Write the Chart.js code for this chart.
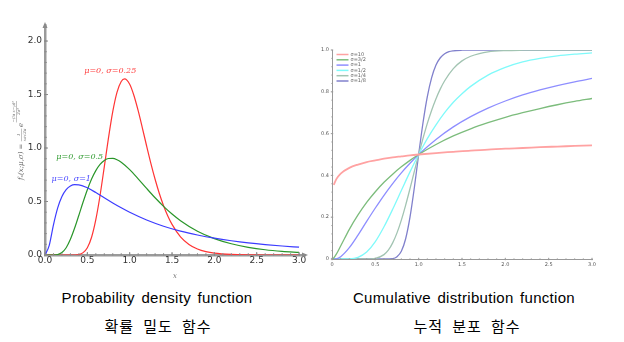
<!DOCTYPE html>
<html lang="ko">
<head>
<meta charset="UTF-8">
<title>로그 정규 분포</title>
<script src="https://cdn.jsdelivr.net/npm/chart.js@4.4.1/dist/chart.umd.min.js"></script>
<style>
  body { margin: 0; background: #fff; width: 624px; height: 342px; position: relative; overflow: hidden; }
  #pdfChart { position: absolute; left: 0; top: 0; }
  #cdfChart { position: absolute; left: 320px; top: 0; }
  .caption { position: absolute; width: 300px; text-align: center; line-height: 20px; font-family: "Liberation Sans", Arial, sans-serif; font-size: 15px; letter-spacing: 0.3px; word-spacing: 2px; color: #000; }
  .ko { font-family: "Noto Sans CJK KR", sans-serif; letter-spacing: 1px; word-spacing: 4px; }
</style>
</head>
<body>
<canvas id="pdfChart" width="320" height="280"></canvas>
<canvas id="cdfChart" width="304" height="280"></canvas>
<div class="caption" style="left:7px; top:288px;">Probability density function</div>
<div class="caption ko" style="left:8px; top:316px;">확률 밀도 함수</div>
<div class="caption" style="left:314px; top:288px;">Cumulative distribution function</div>
<div class="caption ko" style="left:317px; top:316px;">누적 분포 함수</div>

<script>
// ---- 확률 밀도 함수 (mu = 0) ----
const pdfX1 = [0, 0.05, 0.1, 0.15, 0.2, 0.25, 0.3, 0.35, 0.4, 0.5, 0.6, 0.7, 0.8, 0.9, 1.0, 1.2, 1.4, 1.6, 1.8, 2.0, 2.2, 2.4, 2.6, 2.8, 3.0];
const pdfY1 = [0, 0.090, 0.282, 0.440, 0.546, 0.610, 0.644, 0.657, 0.656, 0.628, 0.584, 0.535, 0.486, 0.441, 0.399, 0.327, 0.269, 0.223, 0.187, 0.157, 0.133, 0.113, 0.097, 0.084, 0.073];

const pdfX05 = [0, 0.1, 0.15, 0.2, 0.25, 0.3, 0.35, 0.4, 0.45, 0.5, 0.55, 0.6, 0.65, 0.7, 0.75, 0.8, 0.85, 0.9, 1.0, 1.1, 1.2, 1.3, 1.4, 1.5, 1.6, 1.8, 2.0, 2.2, 2.4, 2.6, 2.8, 3.0];
const pdfY05 = [0, 0.000, 0.004, 0.023, 0.068, 0.147, 0.252, 0.372, 0.495, 0.610, 0.710, 0.789, 0.847, 0.884, 0.902, 0.903, 0.891, 0.867, 0.798, 0.712, 0.622, 0.535, 0.455, 0.383, 0.321, 0.222, 0.153, 0.105, 0.072, 0.049, 0.034, 0.024];

const pdfX025 = [0, 0.3, 0.4, 0.45, 0.5, 0.55, 0.6, 0.65, 0.7, 0.75, 0.8, 0.85, 0.9, 0.94, 1.0, 1.05, 1.1, 1.15, 1.2, 1.25, 1.3, 1.35, 1.4, 1.45, 1.5, 1.6, 1.7, 1.8, 1.9, 2.0, 2.2, 2.4, 2.6, 3.0];
const pdfY025 = [0, 0, 0.005, 0.022, 0.068, 0.166, 0.330, 0.556, 0.824, 1.097, 1.340, 1.520, 1.622, 1.646, 1.596, 1.491, 1.349, 1.187, 1.019, 0.857, 0.708, 0.575, 0.461, 0.365, 0.286, 0.170, 0.099, 0.056, 0.031, 0.017, 0.005, 0.001, 0.000, 0];

const pdfXTicks = [0, 0.5, 1.0, 1.5, 2.0, 2.5, 3.0];
const pdfYTicks = [0, 0.5, 1.0, 1.5, 2.0];
const pdfNotes = [
  { text: 'μ=0, σ=0.25', x: 0.77, y: 1.72, color: '#ff3b3b' },
  { text: 'μ=0, σ=0.5', x: 0.41, y: 0.92, color: '#2e9a2e' },
  { text: 'μ=0, σ=1', x: 0.31, y: 0.71, color: '#4848ff' }
];

// ---- 누적 분포 함수 (mu = 0) ----
const cdfLabels = ['σ=10', 'σ=3/2', 'σ=1', 'σ=1/2', 'σ=1/4', 'σ=1/8'];
const cdfColors = ['#ffa2a2', '#7cbc7c', '#8e8eff', '#80fafa', '#a2c4b2', '#8080cc'];

const cdfX10 = [0.02, 0.05, 0.1, 0.2, 0.3, 0.4, 0.5, 0.6, 0.7, 0.8, 0.9, 1.0, 1.2, 1.4, 1.6, 1.8, 2.0, 2.2, 2.4, 2.6, 2.8, 3.0];
const cdfY10 = [0.355, 0.382, 0.409, 0.436, 0.452, 0.464, 0.472, 0.480, 0.486, 0.491, 0.496, 0.500, 0.507, 0.513, 0.519, 0.523, 0.528, 0.531, 0.535, 0.538, 0.541, 0.544];

const cdfX15 = [0, 0.02, 0.05, 0.1, 0.2, 0.3, 0.4, 0.5, 0.6, 0.7, 0.8, 0.9, 1.0, 1.2, 1.4, 1.6, 1.8, 2.0, 2.2, 2.4, 2.6, 2.8, 3.0];
const cdfY15 = [0, 0.005, 0.023, 0.062, 0.142, 0.211, 0.271, 0.322, 0.367, 0.406, 0.441, 0.472, 0.500, 0.548, 0.589, 0.623, 0.652, 0.678, 0.700, 0.720, 0.738, 0.754, 0.768];

const cdfX1 = [0, 0.05, 0.1, 0.2, 0.3, 0.4, 0.5, 0.6, 0.7, 0.8, 0.9, 1.0, 1.2, 1.4, 1.6, 1.8, 2.0, 2.2, 2.4, 2.6, 2.8, 3.0];
const cdfY1 = [0, 0.001, 0.011, 0.054, 0.114, 0.180, 0.244, 0.305, 0.361, 0.412, 0.458, 0.500, 0.572, 0.632, 0.681, 0.722, 0.756, 0.785, 0.809, 0.830, 0.848, 0.864];

const cdfXHalf = [0, 0.2, 0.3, 0.4, 0.5, 0.6, 0.7, 0.8, 0.9, 1.0, 1.1, 1.2, 1.3, 1.4, 1.5, 1.6, 1.8, 2.0, 2.2, 2.4, 2.6, 2.8, 3.0];
const cdfYHalf = [0, 0.001, 0.008, 0.033, 0.083, 0.154, 0.238, 0.328, 0.417, 0.500, 0.576, 0.642, 0.700, 0.750, 0.791, 0.826, 0.880, 0.917, 0.943, 0.960, 0.972, 0.980, 0.986];

const cdfXQuarter = [0, 0.4, 0.5, 0.6, 0.65, 0.7, 0.75, 0.8, 0.85, 0.9, 0.95, 1.0, 1.05, 1.1, 1.15, 1.2, 1.25, 1.3, 1.4, 1.5, 1.6, 1.7, 1.8, 2.0, 2.2, 2.5, 3.0];
const cdfYQuarter = [0, 0.000, 0.003, 0.021, 0.042, 0.077, 0.125, 0.186, 0.258, 0.337, 0.419, 0.500, 0.577, 0.649, 0.712, 0.767, 0.814, 0.853, 0.911, 0.948, 0.970, 0.983, 0.991, 0.997, 0.999, 1, 1];

const cdfXEighth = [0, 0.6, 0.7, 0.75, 0.8, 0.85, 0.9, 0.95, 1.0, 1.05, 1.1, 1.15, 1.2, 1.25, 1.3, 1.35, 1.4, 1.5, 1.6, 3.0];
const cdfYEighth = [0, 0, 0.002, 0.011, 0.037, 0.097, 0.200, 0.341, 0.500, 0.652, 0.777, 0.868, 0.928, 0.963, 0.982, 0.992, 0.996, 0.999, 1, 1];

const cdfXTicks = [0, 0.5, 1, 1.5, 2, 2.5, 3];
const cdfYTicks = [0, 0.2, 0.4, 0.6, 0.8, 1];

const pts = (xs, ys) => xs.map((x, i) => ({ x: x, y: ys[i] }));

// 축 눈금(주/보조)과 화살표
const axisDecor = {
  id: 'axisDecor',
  afterDatasetsDraw(chart, args, o) {
    const { ctx, chartArea: a, scales: { x, y } } = chart;
    ctx.save();
    ctx.strokeStyle = o.color;
    ctx.lineWidth = o.tickWidth;
    const tick = (vx, vy, len, horiz) => {
      ctx.beginPath();
      if (horiz) {
        const px = x.getPixelForValue(vx);
        ctx.moveTo(px, a.bottom + o.out * len);
        ctx.lineTo(px, a.bottom - o.in * len);
      } else {
        const py = y.getPixelForValue(vy);
        ctx.moveTo(a.left - o.out * len, py);
        ctx.lineTo(a.left + o.in * len, py);
      }
      ctx.stroke();
    };
    for (let v = 0; v <= o.xMax + 1e-9; v += o.xMinor) tick(v, 0, o.minorLen, true);
    for (let v = 0; v <= o.yMax + 1e-9; v += o.yMinor) tick(0, v, o.minorLen, false);
    o.xMajor.forEach(v => tick(v, 0, o.majorLen, true));
    o.yMajor.forEach(v => tick(0, v, o.majorLen, false));
    if (o.arrows) {
      ctx.fillStyle = o.color;
      ctx.beginPath();
      ctx.moveTo(a.left, a.top - 3);
      ctx.lineTo(a.left - 2.5, a.top + 3);
      ctx.lineTo(a.left + 2.5, a.top + 3);
      ctx.fill();
      ctx.beginPath();
      ctx.moveTo(a.right + 3, a.bottom);
      ctx.lineTo(a.right - 3, a.bottom - 2.5);
      ctx.lineTo(a.right - 3, a.bottom + 2.5);
      ctx.fill();
    }
    ctx.restore();
  }
};

// 곡선 옆 설명 글자
const curveNotes = {
  id: 'curveNotes',
  afterDatasetsDraw(chart) {
    const { ctx, scales: { x, y } } = chart;
    ctx.save();
    ctx.font = 'italic 8px "DejaVu Serif", serif';
    ctx.textAlign = 'center';
    ctx.textBaseline = 'middle';
    pdfNotes.forEach(n => {
      ctx.fillStyle = n.color;
      ctx.fillText(n.text, x.getPixelForValue(n.x), y.getPixelForValue(n.y));
    });
    ctx.restore();
  }
};

// 세로축 수식
const formulaTitle = {
  id: 'formulaTitle',
  afterDraw(chart) {
    const { ctx, chartArea: a } = chart;
    ctx.save();
    ctx.translate(21, (a.top + a.bottom) / 2);
    ctx.rotate(-Math.PI / 2);
    ctx.fillStyle = '#666';
    ctx.textBaseline = 'alphabetic';
    let cx = -40;
    ctx.font = 'italic 7px "DejaVu Serif", serif';
    const main = 'fₓ(x;μ,σ) = ';
    ctx.fillText(main, cx, 2);
    cx += ctx.measureText(main).width;
    ctx.font = 'italic 4px "DejaVu Serif", serif';
    const den = 'xσ√2π';
    const w = ctx.measureText(den).width;
    ctx.fillText('1', cx + w / 2 - 1, -1);
    ctx.fillRect(cx, 0, w, 0.4);
    ctx.fillText(den, cx, 4.5);
    cx += w + 1.5;
    ctx.font = 'italic 7px "DejaVu Serif", serif';
    ctx.fillText('e', cx, 2);
    cx += ctx.measureText('e').width + 0.5;
    ctx.font = 'italic 4px "DejaVu Serif", serif';
    const num = '−(ln x−μ)²';
    const wn = ctx.measureText(num).width;
    ctx.fillText(num, cx, -6);
    ctx.fillRect(cx, -5, wn, 0.4);
    ctx.fillText('2σ²', cx + wn / 2 - 3, -1.5);
    ctx.restore();
  }
};

// 범례 (그림 영역 안, 왼쪽 위)
const innerLegend = {
  id: 'innerLegend',
  afterDatasetsDraw(chart) {
    const { ctx, chartArea: a } = chart;
    ctx.save();
    ctx.font = '5px "DejaVu Sans", sans-serif';
    ctx.textBaseline = 'middle';
    chart.data.datasets.forEach((ds, i) => {
      const yy = a.top + 4.5 + i * 5.3;
      ctx.strokeStyle = ds.borderColor;
      ctx.lineWidth = 1.5;
      ctx.beginPath();
      ctx.moveTo(a.left + 4.5, yy);
      ctx.lineTo(a.left + 16.5, yy);
      ctx.stroke();
      ctx.fillStyle = '#666';
      ctx.fillText(ds.label, a.left + 18.5, yy);
    });
    ctx.restore();
  }
};

const fixTicks = values => scale => { scale.ticks = values.map(v => ({ value: v })); };

new Chart(document.getElementById('pdfChart'), {
  type: 'line',
  data: {
    datasets: [
      { label: 'σ=1', data: pts(pdfX1, pdfY1), borderColor: '#3c3cff', borderWidth: 1.2 },
      { label: 'σ=0.5', data: pts(pdfX05, pdfY05), borderColor: '#2a962a', borderWidth: 1.2 },
      { label: 'σ=0.25', data: pts(pdfX025, pdfY025), borderColor: '#ff3434', borderWidth: 1.2 }
    ]
  },
  options: {
    responsive: false,
    animation: false,
    layout: { padding: { top: 25, right: 15, left: 0, bottom: 0 } },
    elements: { point: { radius: 0 }, line: { cubicInterpolationMode: 'monotone' } },
    scales: {
      x: {
        type: 'linear', min: 0, max: 3.07,
        afterBuildTicks: fixTicks(pdfXTicks),
        afterFit: s => { s.height = 25; },
        grid: { display: false, drawTicks: false },
        border: { display: true, color: '#9a9a9a', width: 2.5 },
        ticks: { padding: 0, color: '#333', font: { family: 'DejaVu Sans', size: 9 }, callback: v => v.toFixed(1), maxRotation: 0 },
        title: { display: true, text: 'x', color: '#777', padding: { top: -5, bottom: 0 }, font: { family: 'DejaVu Serif', style: 'italic', size: 7 } }
      },
      y: {
        type: 'linear', min: 0, max: 2.15,
        afterBuildTicks: fixTicks(pdfYTicks),
        afterFit: s => { s.width = 45; },
        grid: { display: false, drawTicks: false },
        border: { display: true, color: '#9a9a9a', width: 2.5 },
        ticks: { padding: 3, color: '#333', font: { family: 'DejaVu Sans', size: 9 }, callback: v => v.toFixed(1) }
      }
    },
    plugins: {
      legend: { display: false },
      tooltip: { enabled: false },
      axisDecor: { color: '#8a8a8a', tickWidth: 1, xMax: 3, yMax: 2, xMinor: 0.1, yMinor: 0.1, xMajor: pdfXTicks, yMajor: pdfYTicks, majorLen: 3, minorLen: 1.8, in: 1, out: 0.3, arrows: true }
    }
  },
  plugins: [axisDecor, curveNotes, formulaTitle]
});

const cdfSeries = [[cdfX10, cdfY10], [cdfX15, cdfY15], [cdfX1, cdfY1], [cdfXHalf, cdfYHalf], [cdfXQuarter, cdfYQuarter], [cdfXEighth, cdfYEighth]];

new Chart(document.getElementById('cdfChart'), {
  type: 'line',
  data: {
    datasets: cdfSeries.map((s, i) => ({
      label: cdfLabels[i],
      data: pts(s[0], s[1]),
      borderColor: cdfColors[i],
      borderWidth: i === 0 ? 1.8 : 1.3
    }))
  },
  options: {
    responsive: false,
    animation: false,
    layout: { padding: { top: 50, right: 32, left: 0, bottom: 0 } },
    elements: { point: { radius: 0 }, line: { cubicInterpolationMode: 'monotone' } },
    scales: {
      x: {
        type: 'linear', min: 0, max: 3,
        afterBuildTicks: fixTicks(cdfXTicks),
        afterFit: s => { s.height = 21; },
        grid: { display: false, drawTicks: false },
        border: { display: true, color: '#999', width: 1 },
        ticks: { padding: 3, color: '#555', font: { family: 'DejaVu Sans', size: 5 }, maxRotation: 0 }
      },
      y: {
        type: 'linear', min: 0, max: 1,
        afterBuildTicks: fixTicks(cdfYTicks),
        afterFit: s => { s.width = 12; },
        grid: { display: false, drawTicks: false },
        border: { display: true, color: '#999', width: 1 },
        ticks: { padding: 3, color: '#555', font: { family: 'DejaVu Sans', size: 5 } }
      }
    },
    plugins: {
      legend: { display: false },
      tooltip: { enabled: false },
      axisDecor: { color: '#999', tickWidth: 0.8, xMax: 3, yMax: 1, xMinor: 0.1, yMinor: 0.04, xMajor: cdfXTicks, yMajor: cdfYTicks, majorLen: 2.5, minorLen: 1.5, in: 0.5, out: 0.5, arrows: false }
    }
  },
  plugins: [axisDecor, innerLegend]
});
</script>
</body>
</html>
